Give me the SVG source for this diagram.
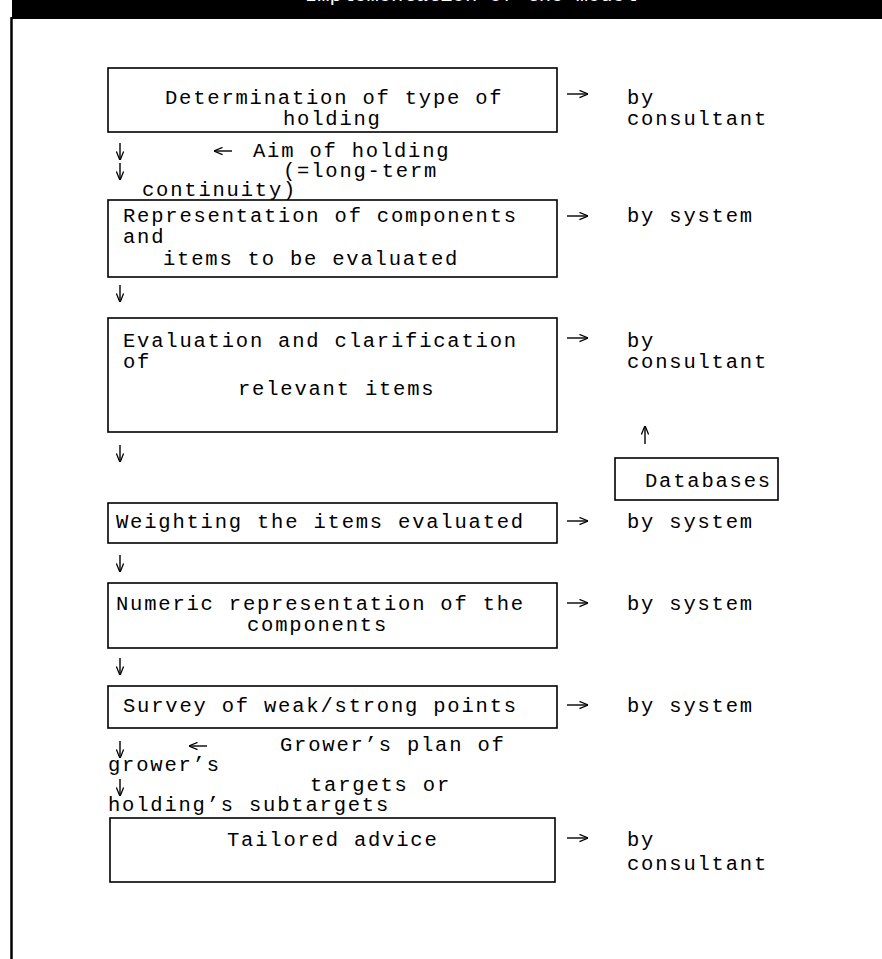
<svg xmlns="http://www.w3.org/2000/svg" width="882" height="959" viewBox="0 0 882 959">
<style>
.t{font-family:"Liberation Mono","DejaVu Sans Mono",monospace;font-size:20.5px;letter-spacing:1.8px;fill:#000}
.b{fill:#fff;stroke:#000;stroke-width:1.6}
.c{fill:none;stroke:#000;stroke-width:1.4}
</style>
<defs>
<marker id="ah" viewBox="0 0 10 10" refX="9.5" refY="5" markerWidth="9" markerHeight="9" markerUnits="userSpaceOnUse" orient="auto">
<path d="M0,1 L10,5 L0,9" fill="none" stroke="#000" stroke-width="1.4"/>
</marker>
</defs>
<rect x="0" y="0" width="882" height="959" fill="#fff"/>
<g id="frame">
<rect x="12" y="0" width="870" height="19" fill="#000"/>
<text x="305" y="1" style="font-family:'Liberation Mono',monospace;font-size:20.5px;fill:#fff">Implementation of the model</text>
<line x1="11.5" y1="17" x2="11.5" y2="959" stroke="#000" stroke-width="2.5"/>
</g>
<g id="n1">
<rect class="b" x="108" y="68" width="449" height="64"/>
<text class="t" x="165" y="104">Determination of type of</text>
<text class="t" x="283" y="125">holding</text>
</g>
<g id="r1"><text class="t" x="627" y="104">by</text><text class="t" x="627" y="125">consultant</text></g>
<g id="aim">
<text class="t" x="253" y="157">Aim of holding</text>
<text class="t" x="283" y="177">(=long-term</text>
<text class="t" x="142" y="196">continuity)</text>
</g>
<g id="n2">
<rect class="b" x="108" y="200" width="449" height="77"/>
<text class="t" x="123" y="222">Representation of components</text>
<text class="t" x="123" y="243">and</text>
<text class="t" x="163" y="265">items to be evaluated</text>
</g>
<g id="r2"><text class="t" x="627" y="222">by system</text></g>
<g id="n3">
<rect class="b" x="108" y="318" width="449" height="114"/>
<text class="t" x="123" y="347">Evaluation and clarification</text>
<text class="t" x="123" y="368">of</text>
<text class="t" x="238" y="395">relevant items</text>
</g>
<g id="r3"><text class="t" x="627" y="347">by</text><text class="t" x="627" y="368">consultant</text></g>
<g id="db">
<rect class="b" x="615" y="458" width="163" height="42"/>
<text class="t" x="645" y="487">Databases</text>
</g>
<g id="n4">
<rect class="b" x="108" y="503" width="449" height="40"/>
<text class="t" x="116" y="528">Weighting the items evaluated</text>
</g>
<g id="r4"><text class="t" x="627" y="528">by system</text></g>
<g id="n5">
<rect class="b" x="108" y="583" width="449" height="65"/>
<text class="t" x="116" y="610">Numeric representation of the</text>
<text class="t" x="247" y="631">components</text>
</g>
<g id="r5"><text class="t" x="627" y="610">by system</text></g>
<g id="n6">
<rect class="b" x="108" y="686" width="449" height="42"/>
<text class="t" x="123" y="712">Survey of weak/strong points</text>
</g>
<g id="r6"><text class="t" x="627" y="712">by system</text></g>
<g id="plan">
<text class="t" x="280" y="751">Grower’s plan of</text>
<text class="t" x="108" y="771">grower’s</text>
<text class="t" x="310" y="791">targets or</text>
<text class="t" x="108" y="811">holding’s subtargets</text>
</g>
<g id="n7">
<rect class="b" x="110" y="818" width="445" height="64"/>
<text class="t" x="227" y="846">Tailored advice</text>
</g>
<g id="r7"><text class="t" x="627" y="846">by</text><text class="t" x="627" y="870">consultant</text></g>
<g id="connectors">
<path class="c" marker-end="url(#ah)" d="M567,94 H588"/>
<path class="c" marker-end="url(#ah)" d="M120,143 V160"/>
<path class="c" marker-end="url(#ah)" d="M120,163 V180"/>
<path class="c" marker-end="url(#ah)" d="M232,151 H214"/>
<path class="c" marker-end="url(#ah)" d="M567,216 H588"/>
<path class="c" marker-end="url(#ah)" d="M120,285 V302"/>
<path class="c" marker-end="url(#ah)" d="M567,338 H588"/>
<path class="c" marker-end="url(#ah)" d="M645,444 V426"/>
<path class="c" marker-end="url(#ah)" d="M120,445 V462"/>
<path class="c" marker-end="url(#ah)" d="M567,521 H588"/>
<path class="c" marker-end="url(#ah)" d="M120,555 V572"/>
<path class="c" marker-end="url(#ah)" d="M567,603 H588"/>
<path class="c" marker-end="url(#ah)" d="M120,658 V675"/>
<path class="c" marker-end="url(#ah)" d="M567,705 H588"/>
<path class="c" marker-end="url(#ah)" d="M120,741 V758"/>
<path class="c" marker-end="url(#ah)" d="M207,746 H189"/>
<path class="c" marker-end="url(#ah)" d="M120,779 V796"/>
<path class="c" marker-end="url(#ah)" d="M567,838 H588"/>
</g>
</svg>
